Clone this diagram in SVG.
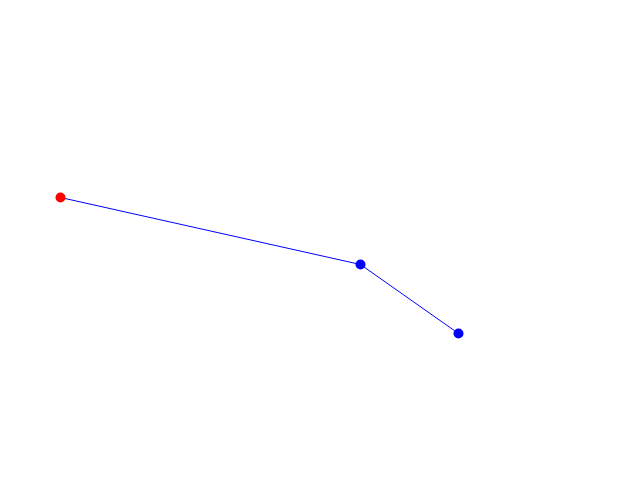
<svg xmlns="http://www.w3.org/2000/svg" width="640" height="480" viewBox="0 0 640 480">
<style>
.edge{stroke:#0000ff;stroke-width:1;fill:none}
.pt{stroke:none}
</style>
<rect width="640" height="480" fill="#ffffff"/>
<g id="connectors">
<polyline class="edge" points="60.5,197.5 360.5,264.5 458.5,333.5"/>
</g>
<g id="node-start"><circle class="pt" cx="60.5" cy="197.5" r="5" fill="#ff0000"/></g>
<g id="node-mid"><circle class="pt" cx="360.5" cy="264.5" r="5" fill="#0000ff"/></g>
<g id="node-end"><circle class="pt" cx="458.5" cy="333.5" r="5" fill="#0000ff"/></g>
</svg>
